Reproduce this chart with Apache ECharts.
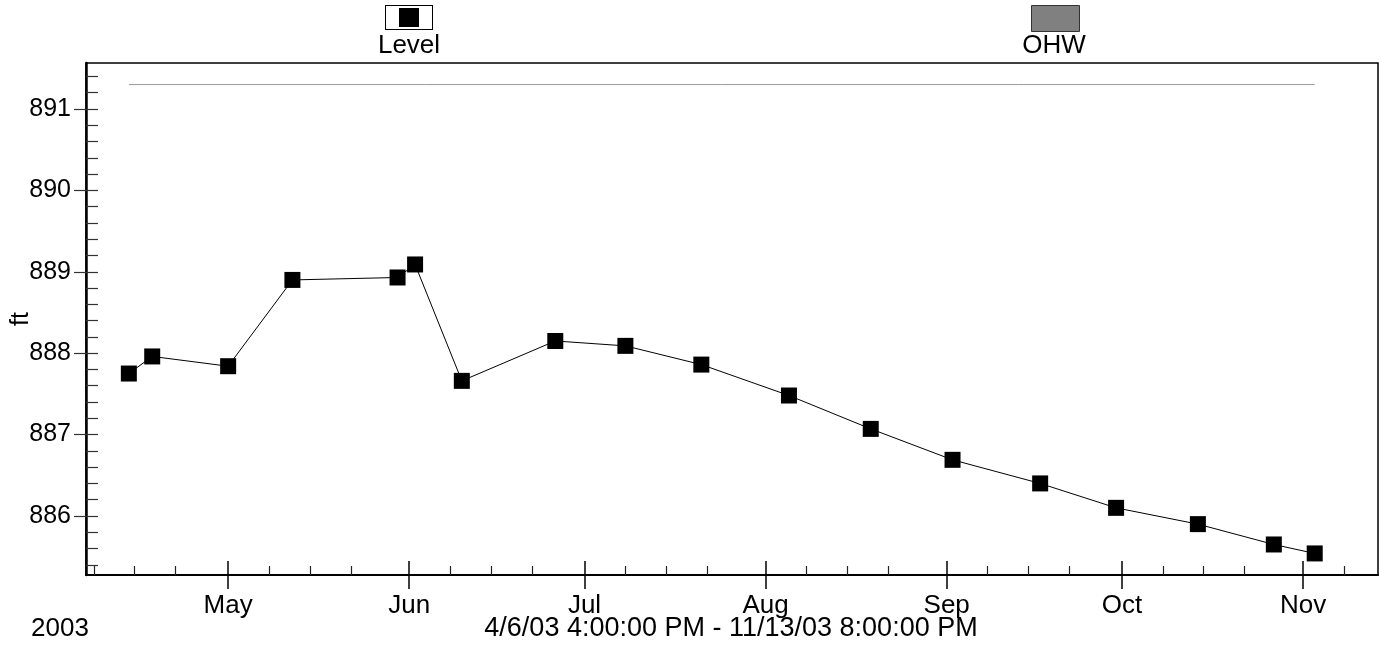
<!DOCTYPE html>
<html>
<head>
<meta charset="utf-8">
<script src="https://cdn.jsdelivr.net/npm/echarts@6/dist/echarts.min.js"></script>
<style>
  html, body { margin: 0; padding: 0; background: #fff; }
  #chart { width: 1380px; height: 645px; }
</style>
</head>
<body>
<div id="chart"></div>
<script>
// water level readings (ft)
const levelDates = ['2003-04-14', '2003-04-18', '2003-05-01', '2003-05-12', '2003-05-30', '2003-06-02',
  '2003-06-10', '2003-06-26', '2003-07-08', '2003-07-21', '2003-08-05', '2003-08-19',
  '2003-09-02', '2003-09-17', '2003-09-30', '2003-10-14', '2003-10-27', '2003-11-03'];
const levelValues = [887.75, 887.96, 887.84, 888.90, 888.93, 889.09,
  887.66, 888.15, 888.09, 887.86, 887.48, 887.07,
  886.69, 886.40, 886.10, 885.90, 885.65, 885.54];

// ordinary high water
const ohwDates = ['2003-04-14', '2003-11-03'];
const ohwValues = [891.3, 891.3];

// axis range and ticks
const xRange = ['2003-04-06 16:00', '2003-11-13 20:00'];
const monthTicks = ['2003-05-01', '2003-06-01', '2003-07-01', '2003-08-01', '2003-09-01', '2003-10-01', '2003-11-01'];
const monthLabels = ['May', 'Jun', 'Jul', 'Aug', 'Sep', 'Oct', 'Nov'];
const weekTicks = ['2003-04-08', '2003-04-15', '2003-04-22', '2003-05-08', '2003-05-15', '2003-05-22',
  '2003-06-08', '2003-06-15', '2003-06-22', '2003-07-08', '2003-07-15', '2003-07-22',
  '2003-08-08', '2003-08-15', '2003-08-22', '2003-09-08', '2003-09-15', '2003-09-22',
  '2003-10-08', '2003-10-15', '2003-10-22', '2003-11-08'];
const yRange = [885.275, 891.565];
const yLabels = [886, 887, 888, 889, 890, 891];
const yMinorTicks = [885.4, 885.6, 885.8, 886, 886.2, 886.4, 886.6, 886.8, 887, 887.2, 887.4, 887.6, 887.8,
  888, 888.2, 888.4, 888.6, 888.8, 889, 889.2, 889.4, 889.6, 889.8, 890, 890.2, 890.4, 890.6, 890.8,
  891, 891.2, 891.4];

const FONT = 'Liberation Sans, Arial, sans-serif';

// parse 'YYYY-MM-DD[ HH:mm]' to epoch ms (UTC, same for every value)
function toTime(s) {
  const [d, t] = s.split(' ');
  const [y, m, day] = d.split('-').map(Number);
  const h = t ? Number(t.split(':')[0]) : 0;
  return Date.UTC(y, m - 1, day, h);
}

const xMin = toTime(xRange[0]);
const xMax = toTime(xRange[1]);
const monthTimes = monthTicks.map(toTime);
const weekTimes = weekTicks.map(toTime);

const chart = echarts.init(document.getElementById('chart'));

// x is drawn on a value axis holding timestamps, so ticks can be placed exactly
const baseX = {
  type: 'value',
  gridIndex: 0,
  position: 'bottom',
  min: xMin,
  max: xMax,
  splitLine: { show: false },
  axisLine: { show: false, onZero: false },
  axisLabel: { show: false },
};
const baseY = {
  type: 'value',
  gridIndex: 0,
  position: 'left',
  min: yRange[0],
  max: yRange[1],
  splitLine: { show: false },
  axisLine: { show: false, onZero: false },
  axisLabel: { show: false },
};

const option = {
  animation: false,
  backgroundColor: '#fff',
  grid: {
    left: 86,
    top: 63,
    width: 1292,
    height: 512,
    containLabel: false,
    outerBoundsMode: 'none',
    show: true,
    borderColor: '#000',
    borderWidth: 1.5,
  },
  legend: [
    {
      left: 385,
      top: 5,
      padding: 0,
      itemWidth: 48,
      itemHeight: 25,
      selectedMode: false,
      formatter: () => '',
      data: [{
        name: 'Level',
        icon: 'path://M0,0H48V25H0Z M1,1V24H47V1Z M14,3H34V22H14Z',
        itemStyle: { color: '#000', borderWidth: 0 },
      }],
    },
    {
      left: 1031,
      top: 5,
      padding: 0,
      itemWidth: 48,
      itemHeight: 26,
      selectedMode: false,
      formatter: () => '',
      data: [{
        name: 'OHW',
        icon: 'rect',
        itemStyle: { color: '#808080', borderColor: '#333', borderWidth: 1 },
      }],
    },
  ],
  graphic: [
    { type: 'text', x: 409, y: 46, style: { text: 'Level', font: '26px ' + FONT, fill: '#000', align: 'center', verticalAlign: 'middle' } },
    { type: 'text', x: 1054, y: 46, style: { text: 'OHW', font: '26px ' + FONT, fill: '#000', align: 'center', verticalAlign: 'middle' } },
    { type: 'text', x: 60, y: 629, style: { text: '2003', font: '26px ' + FONT, fill: '#000', align: 'center', verticalAlign: 'middle' } },
    { type: 'text', x: 731, y: 629, style: { text: '4/6/03 4:00:00 PM - 11/13/03 8:00:00 PM', font: '27px ' + FONT, fill: '#000', align: 'center', verticalAlign: 'middle' } },
  ],
  xAxis: [
    {
      ...baseX,
      axisLine: { show: true, onZero: false, lineStyle: { color: '#000', width: 2 } },
      axisTick: { show: true, inside: false, length: 14, customValues: monthTimes, lineStyle: { color: '#000', width: 1.5 } },
      axisLabel: {
        show: true,
        customValues: monthTimes,
        color: '#000',
        fontFamily: FONT,
        fontSize: 26,
        margin: 18,
        formatter: (value) => {
          const i = monthTimes.findIndex((t) => Math.abs(t - value) < 3600000);
          return i >= 0 ? monthLabels[i] : '';
        },
      },
    },
    {
      ...baseX,
      axisTick: { show: true, inside: true, length: 14, customValues: monthTimes, lineStyle: { color: '#000', width: 1.5 } },
    },
    {
      ...baseX,
      axisTick: { show: true, inside: true, length: 9, customValues: weekTimes, lineStyle: { color: '#222', width: 1.2 } },
    },
  ],
  yAxis: [
    {
      ...baseY,
      name: 'ft',
      nameLocation: 'middle',
      nameRotate: 90,
      nameGap: 52,
      nameMoveOverlap: false,
      nameTextStyle: { color: '#000', fontFamily: FONT, fontSize: 25 },
      axisLine: { show: true, onZero: false, lineStyle: { color: '#000', width: 2.5 } },
      axisTick: { show: true, inside: false, length: 12, customValues: yLabels, lineStyle: { color: '#333', width: 1.2 } },
      axisLabel: {
        show: true,
        customValues: yLabels,
        color: '#000',
        fontFamily: FONT,
        fontSize: 25,
        margin: 15,
      },
    },
    {
      ...baseY,
      axisTick: { show: true, inside: true, length: 12, customValues: yMinorTicks, lineStyle: { color: '#333', width: 1.2 } },
    },
  ],
  series: [
    {
      name: 'OHW',
      type: 'line',
      xAxisIndex: 0,
      yAxisIndex: 0,
      data: ohwDates.map((d, i) => [toTime(d), ohwValues[i]]),
      symbol: 'none',
      lineStyle: { color: '#999', width: 1 },
      itemStyle: { color: '#808080' },
      z: 2,
    },
    {
      name: 'Level',
      type: 'line',
      xAxisIndex: 0,
      yAxisIndex: 0,
      data: levelDates.map((d, i) => [toTime(d), levelValues[i]]),
      symbol: 'rect',
      symbolSize: 16,
      itemStyle: { color: '#000' },
      lineStyle: { color: '#000', width: 1 },
      z: 3,
    },
  ],
};

chart.setOption(option);
</script>
</body>
</html>
